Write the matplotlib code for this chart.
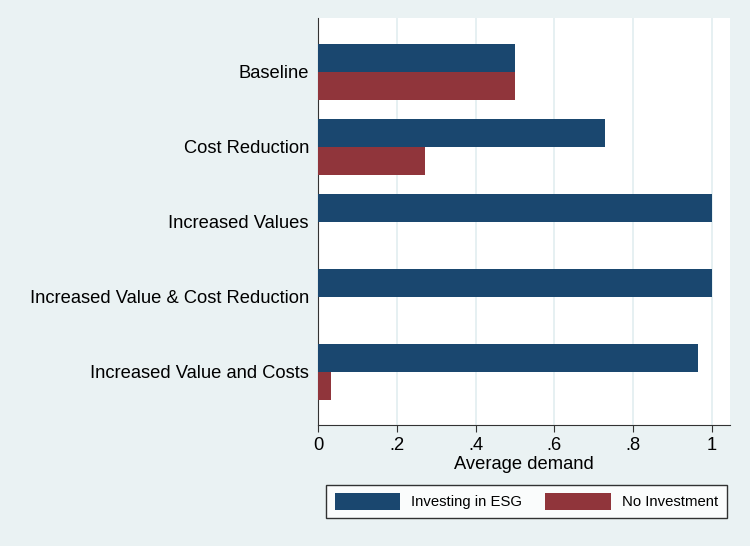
import numpy as np
import matplotlib.pyplot as plt
from matplotlib.patches import Patch

plt.rcParams['font.family'] = ['Liberation Sans', 'DejaVu Sans']

categories = ['Baseline', 'Cost Reduction', 'Increased Values',
              'Increased Value & Cost Reduction', 'Increased Value and Costs']
esg = [0.50, 0.728, 1.0, 1.0, 0.966]
no_inv = [0.50, 0.272, 0.0, 0.0, 0.033]
xticks = [0, 0.2, 0.4, 0.6, 0.8, 1.0]
xticklabels = ['0', '.2', '.4', '.6', '.8', '1']

blue = '#1a476f'
red = '#90353b'
bg = '#eaf2f3'

fig = plt.figure(figsize=(7.5, 5.46), dpi=100, facecolor=bg)
ax = fig.add_axes([318 / 750, 121 / 546, 412 / 750, 407 / 546])
ax.set_facecolor('white')

y = np.arange(len(categories))
h = 0.373
ax.barh(y - h / 2, esg, height=h, color=blue, zorder=3)
ax.barh(y + h / 2, no_inv, height=h, color=red, zorder=3)

ax.set_ylim(4.707, -0.72)
ax.set_xlim(0, 1.046)
ax.set_yticks(y)
ax.set_yticklabels(categories, fontsize=13.2)
ax.tick_params(axis='y', length=0, pad=6.5)
ax.set_xticks(xticks)
ax.set_xticklabels(xticklabels, fontsize=13.2)
ax.tick_params(axis='x', length=5, color='#333333', pad=4)
ax.grid(axis='x', color='#e2eef0', linewidth=1.2, zorder=0)
for s in ['top', 'right']:
    ax.spines[s].set_visible(False)
for s in ['left', 'bottom']:
    ax.spines[s].set_color('#333333')
ax.set_xlabel('Average demand', fontsize=13.2, labelpad=1)

handles = [Patch(facecolor=blue), Patch(facecolor=red)]
leg = fig.legend(handles, ['Investing in ESG', 'No Investment'], ncol=2,
                 loc='center', bbox_to_anchor=(526.5 / 750, 1 - 501.5 / 546),
                 fontsize=10.7, frameon=True, fancybox=False, handlelength=4.43,
                 handleheight=1.28, columnspacing=1.54, borderpad=0.55,
                 handletextpad=0.74)
leg.get_frame().set_edgecolor('black')
leg.get_frame().set_linewidth(1.0)

fig.savefig('out.png', dpi=100, facecolor=bg)
